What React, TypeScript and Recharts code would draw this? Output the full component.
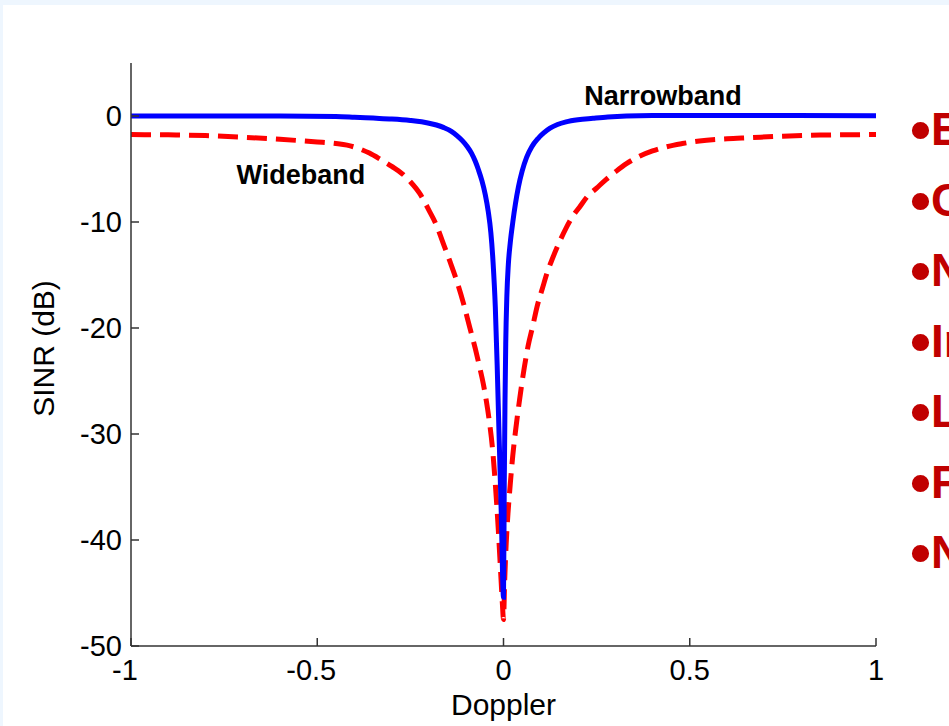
import React from 'react';
import { LineChart, Line, XAxis, YAxis, ReferenceDot } from 'recharts';

// Doppler (normalized) vs SINR (dB), narrowband STAP response
const dopplerNarrow = [
  -1.0, -0.8, -0.6, -0.45, -0.4, -0.35, -0.3, -0.25, -0.22, -0.2, -0.18, -0.16,
  -0.14, -0.125, -0.11, -0.097, -0.086, -0.076, -0.067, -0.058, -0.049, -0.041,
  -0.034, -0.028, -0.022, -0.017, -0.012, -0.006, 0, 0.002, 0.004, 0.006, 0.009,
  0.013, 0.018, 0.025, 0.032, 0.04, 0.05, 0.062, 0.076, 0.092, 0.108, 0.125, 0.145,
  0.168, 0.2, 0.24, 0.28, 0.33, 0.4, 0.6, 1.0,
];
const sinrNarrow = [
  0, 0, 0, -0.05, -0.12, -0.2, -0.28, -0.42, -0.55, -0.68, -0.85, -1.1,
  -1.45, -1.85, -2.35, -2.9, -3.5, -4.25, -5.1, -6.1, -7.4, -9.0,
  -11.0, -13.8, -18.0, -23.5, -30, -37.5, -45.4, -35, -27, -21.5, -17,
  -14, -12, -10, -8.3, -6.7, -5.2, -3.9, -2.9, -2.15, -1.6, -1.15, -0.8,
  -0.55, -0.35, -0.22, -0.1, 0, 0.05, 0.05, 0.03,
];

// Wideband response
const dopplerWide = [
  -1.0, -0.9, -0.8, -0.7, -0.6, -0.5, -0.45, -0.42, -0.39, -0.36, -0.33, -0.3,
  -0.27, -0.25, -0.225, -0.2, -0.18, -0.164, -0.145, -0.126, -0.108, -0.091,
  -0.076, -0.064, -0.054, -0.046, -0.038, -0.03, -0.021, -0.014, -0.008, -0.003,
  0, 0.003, 0.007, 0.012, 0.018, 0.025, 0.032, 0.043, 0.056, 0.066, 0.078, 0.09,
  0.105, 0.118, 0.132, 0.15, 0.169, 0.185, 0.204, 0.225, 0.25, 0.275, 0.303, 0.33,
  0.365, 0.4, 0.438, 0.48, 0.526, 0.6, 0.66, 0.75, 0.85, 1.0,
];
const sinrWide = [
  -1.75, -1.78, -1.85, -2.0, -2.2, -2.45, -2.6, -2.75, -3.05, -3.5, -4.1, -4.75,
  -5.5, -6.2, -7.3, -8.9, -10.3, -11.8, -13.6, -15.5, -17.6, -19.9,
  -21.9, -23.7, -25.3, -26.9, -28.8, -31.2, -35.2, -39, -42.8, -46,
  -47.5, -44, -40.5, -37.5, -34.8, -32, -29.8, -26.8, -23.7, -21.7, -19.9, -18,
  -16.2, -14.7, -13.4, -11.9, -10.5, -9.5, -8.6, -7.6, -6.8, -6.0, -5.2, -4.5,
  -3.8, -3.3, -2.9, -2.6, -2.35, -2.15, -2.05, -1.9, -1.8, -1.75,
];

const dopplerTicks = [-1, -0.5, 0, 0.5, 1];
const sinrTicks = [-50, -40, -30, -20, -10, 0];

const bulletItems = ['E', 'C', 'N', 'Ir', 'L', 'F', 'N'];

const narrowData = dopplerNarrow.map((x, i) => ({ x, v: sinrNarrow[i] }));
const wideData = dopplerWide.map((x, i) => ({ x, v: sinrWide[i] }));

const FONT = '"Liberation Sans", Arial, Helvetica, sans-serif';
const AXIS_COLOR = '#333333';
const TICK_LEN = 8;
const TICK_FONT = 29;
const LABEL_FONT = 30;
const Y_MARGIN = 9;
const X_MARGIN = 34;

const LeftTick = (props: any) => {
  const { x, y, payload } = props;
  const ax = x + Y_MARGIN;
  return (
    <g>
      <line x1={ax} x2={ax + TICK_LEN} y1={y} y2={y} stroke={AXIS_COLOR} strokeWidth={1.5} />
      <text x={x} y={y} dy={10} textAnchor="end" fontSize={TICK_FONT} fontFamily={FONT} fill="#000">
        {payload.value}
      </text>
    </g>
  );
};

const BottomTick = (props: any) => {
  const { x, y, payload } = props;
  const ay = y - X_MARGIN;
  return (
    <g>
      <line x1={x} x2={x} y1={ay} y2={ay - TICK_LEN} stroke={AXIS_COLOR} strokeWidth={1.5} />
      <text x={x} y={y} dx={payload.value < 0 ? -6 : 0} textAnchor="middle" fontSize={TICK_FONT} fontFamily={FONT} fill="#000">
        {payload.value}
      </text>
    </g>
  );
};

const RightTick = (props: any) => {
  const { x, y } = props;
  return <line x1={x} x2={x - TICK_LEN} y1={y} y2={y} stroke={AXIS_COLOR} strokeWidth={1.5} />;
};

const TopTick = (props: any) => {
  const { x, y } = props;
  return <line x1={x} x2={x} y1={y} y2={y + TICK_LEN} stroke={AXIS_COLOR} strokeWidth={1.5} />;
};

const seriesLabel = (text: string) => (props: any) => {
  const { viewBox } = props;
  return (
    <text x={viewBox.x} y={viewBox.y} fontSize={27} fontWeight="bold" fontFamily={FONT} fill="#000">
      {text}
    </text>
  );
};

export default function App() {
  return (
    <div style={{ position: 'absolute', left: 0, top: 0, width: 949, height: 726, background: '#eef6fe', overflow: 'hidden' }}>
      <div style={{ position: 'absolute', left: 3, top: 5, right: 0, bottom: 0, background: '#ffffff' }} />
      <div style={{ position: 'absolute', left: 0, top: 0 }}>
        <LineChart width={949} height={726} margin={{ top: 63, right: 73, bottom: 0, left: 0 }}>
          <XAxis
            xAxisId="b"
            type="number"
            dataKey="x"
            domain={[-1, 1]}
            ticks={dopplerTicks}
            allowDataOverflow
            height={80}
            tickSize={0}
            tickMargin={X_MARGIN}
            tickLine={false}
            tick={<BottomTick />}
            axisLine={{ stroke: AXIS_COLOR, strokeWidth: 1.5 }}
            label={{
              value: 'Doppler',
              content: (p: any) => (
                <text
                  x={p.viewBox.x + p.viewBox.width / 2}
                  y={p.viewBox.y + 69}
                  textAnchor="middle"
                  fontSize={LABEL_FONT}
                  fontFamily={FONT}
                  fill="#000"
                >
                  Doppler
                </text>
              ),
            }}
          />
          <XAxis
            xAxisId="t"
            orientation="top"
            type="number"
            dataKey="x"
            domain={[-1, 1]}
            ticks={dopplerTicks}
            allowDataOverflow
            height={0}
            tickSize={0}
            tickMargin={0}
            tickLine={false}
            tick={<TopTick />}
            axisLine={{ stroke: AXIS_COLOR, strokeWidth: 1.5 }}
          />
          <YAxis
            yAxisId="l"
            type="number"
            domain={[-50, 5]}
            ticks={sinrTicks}
            allowDataOverflow
            width={131}
            tickSize={0}
            tickMargin={Y_MARGIN}
            tickLine={false}
            tick={<LeftTick />}
            axisLine={{ stroke: AXIS_COLOR, strokeWidth: 1.5 }}
            label={{
              value: 'SINR (dB)',
              content: (p: any) => {
                const cx = p.viewBox.x + 44;
                const cy = p.viewBox.y + p.viewBox.height / 2 - 6;
                return (
                  <text
                    x={cx}
                    y={cy}
                    dy={10}
                    textAnchor="middle"
                    transform={`rotate(-90 ${cx} ${cy})`}
                    fontSize={LABEL_FONT}
                    fontFamily={FONT}
                    fill="#000"
                  >
                    SINR (dB)
                  </text>
                );
              },
            }}
          />
          <YAxis
            yAxisId="r"
            orientation="right"
            type="number"
            domain={[-50, 5]}
            ticks={sinrTicks}
            allowDataOverflow
            width={0}
            tickSize={0}
            tickMargin={0}
            tickLine={false}
            tick={<RightTick />}
            axisLine={{ stroke: AXIS_COLOR, strokeWidth: 1.5 }}
          />
          <Line
            xAxisId="b"
            yAxisId="l"
            data={wideData}
            dataKey="v"
            type="monotone"
            stroke="#ff0000"
            strokeWidth={5}
            strokeDasharray="20 9"
            dot={false}
            activeDot={false}
            isAnimationActive={false}
          />
          <Line
            xAxisId="b"
            yAxisId="l"
            data={narrowData}
            dataKey="v"
            type="monotone"
            stroke="#0000ff"
            strokeWidth={5}
            dot={false}
            activeDot={false}
            isAnimationActive={false}
          />
          <ReferenceDot xAxisId="b" yAxisId="l" x={0.217} y={1.0} r={0} fill="none" stroke="none" label={{ content: seriesLabel('Narrowband') }} />
          <ReferenceDot xAxisId="b" yAxisId="l" x={-0.717} y={-6.4} r={0} fill="none" stroke="none" label={{ content: seriesLabel('Wideband') }} />
        </LineChart>
      </div>
      {bulletItems.map((t, i) => (
        <div
          key={i}
          style={{
            position: 'absolute',
            left: 910,
            top: 129 + i * 70.5 - 35,
            height: 70,
            lineHeight: '70px',
            whiteSpace: 'nowrap',
            fontFamily: FONT,
            fontWeight: 'bold',
            fontSize: 46,
            color: '#c00000',
          }}
        >
          <span style={{ fontSize: 60, lineHeight: 0, verticalAlign: '-5px' }}>{'\u2022'}</span>
          {t}
        </div>
      ))}
    </div>
  );
}
